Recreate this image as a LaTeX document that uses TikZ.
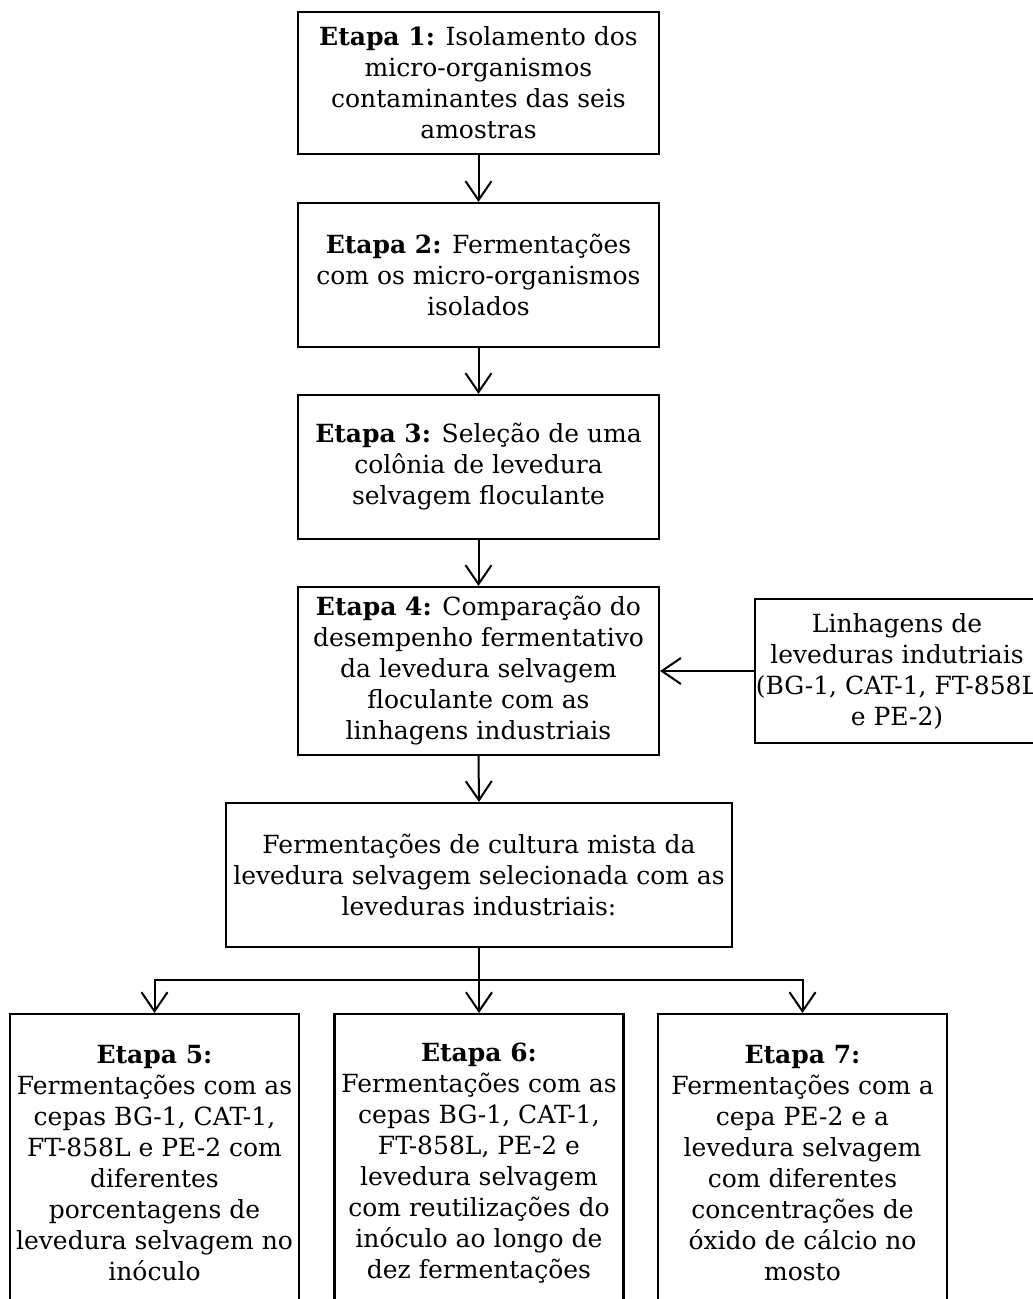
\documentclass[tikz,border=0pt]{standalone}
\usepackage{fontspec}
\setmainfont{DejaVu Serif}
\usetikzlibrary{arrows.meta}
\begin{document}
\begin{tikzpicture}[x=1pt,y=-1pt,
  box/.style={draw, line width=2.2pt, inner sep=0pt, align=center,
    font=\fontsize{25}{31}\selectfont},
  mainbox/.style={box, minimum width=361pt},
  botbox/.style={box, minimum width=289pt, minimum height=298pt, anchor=north},
  arr/.style={line width=2pt, -{Straight Barb[length=19pt,width=26pt,line width=2pt]}},
  link/.style={line width=2pt}]
\useasboundingbox (0,0) rectangle (1033,1299);
\begin{scope}
\clip (0,0) rectangle (1033,1299);
\node[mainbox, minimum height=142pt] (b1) at (478.5,83)
  {\textbf{Etapa 1:} Isolamento dos\\micro-organismos\\contaminantes das seis\\amostras};
\node[mainbox, minimum height=144pt] (b2) at (478.5,275)
  {\textbf{Etapa 2:} Fermentações\\com os micro-organismos\\isolados};
\node[mainbox, minimum height=144pt] (b3) at (478.5,467)
  {\textbf{Etapa 3:} Seleção de uma\\colônia de levedura\\selvagem floculante};
\node[mainbox, minimum height=168pt] (b4) at (478.5,671)
  {\textbf{Etapa 4:} Comparação do\\desempenho fermentativo\\da levedura selvagem\\floculante com as\\linhagens industriais};
\node[box, minimum width=284pt, minimum height=144pt] (lin) at (897,671)
  {Linhagens de\\leveduras indutriais\\(BG-1, CAT-1, FT-858L\\e PE-2)};
\node[box, minimum width=506pt, minimum height=144pt] (mix) at (479,875)
  {Fermentações de cultura mista da\\levedura selvagem selecionada com as\\leveduras industriais:};
\node[botbox] (b5) at (154.5,1013)
  {\textbf{Etapa 5:}\\Fermentações com as\\cepas BG-1, CAT-1,\\FT-858L e PE-2 com\\diferentes\\porcentagens de\\levedura selvagem no\\inóculo};
\node[botbox] (b6) at (479,1013)
  {\textbf{Etapa 6:}\\Fermentações com as\\cepas BG-1, CAT-1,\\FT-858L, PE-2 e\\levedura selvagem\\com reutilizações do\\inóculo ao longo de\\dez fermentações};
\node[botbox] (b7) at (802.5,1013)
  {\textbf{Etapa 7:}\\Fermentações com a\\cepa PE-2 e a\\levedura selvagem\\com diferentes\\concentrações de\\óxido de cálcio no\\mosto};
\draw[arr] (b1.south) -- (b2.north);
\draw[arr] (b2.south) -- (b3.north);
\draw[arr] (b3.south) -- (b4.north);
\draw[arr] (lin.west) -- (b4.east);
\draw[arr] (b4.south) -- (mix.north);
\coordinate (split) at (479,980);
\draw[arr] (mix.south) -- (b6.north);
\draw[arr] (split) -| (b5.north);
\draw[arr] (split) -| (b7.north);
\end{scope}
\end{tikzpicture}
\end{document}
